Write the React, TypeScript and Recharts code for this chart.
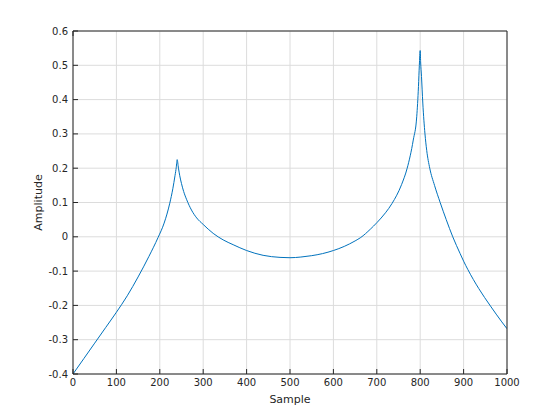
import React from 'react';
import { LineChart, Line, XAxis, YAxis, CartesianGrid } from 'recharts';

// sample index -> amplitude
const SAMPLES = [
  0, 25, 50, 75, 100, 125, 150, 175, 196, 210, 223, 230, 235, 238, 240, 243, 246, 250, 255, 262,
  273, 285, 300, 323, 346, 369, 400, 438, 477, 500, 525, 550, 575, 600, 625, 650, 663, 685, 700,
  720, 735, 757, 770, 784, 792, 796, 798, 800, 801, 803, 806, 811, 815, 822, 833, 846, 860, 875,
  892, 900, 910, 935, 962, 988, 1000,
];
const AMPLITUDE = [
  -0.4, -0.355, -0.31, -0.265, -0.22, -0.172, -0.117, -0.057, -0.002, 0.04, 0.098, 0.14, 0.178,
  0.203, 0.225, 0.2, 0.178, 0.155, 0.132, 0.108, 0.078, 0.055, 0.036, 0.01, -0.009, -0.023, -0.04,
  -0.054, -0.06, -0.061, -0.059, -0.055, -0.049, -0.04, -0.028, -0.012, -0.002, 0.022, 0.041,
  0.07, 0.097, 0.152, 0.2, 0.282, 0.35, 0.438, 0.5, 0.543, 0.51, 0.467, 0.39, 0.3, 0.252, 0.2,
  0.15, 0.1, 0.05, 0.0, -0.049, -0.071, -0.096, -0.151, -0.202, -0.248, -0.268,
];

const X_TICKS = [0, 100, 200, 300, 400, 500, 600, 700, 800, 900, 1000];
const Y_TICKS = [-0.4, -0.3, -0.2, -0.1, 0, 0.1, 0.2, 0.3, 0.4, 0.5, 0.6];

const data = SAMPLES.map((s, i) => ({ sample: s, amplitude: AMPLITUDE[i] }));

const FONT = '"DejaVu Sans", sans-serif';
const INK = '#262626';
const tickStyle = { fontSize: 10, fill: INK, fontFamily: FONT };
const noTick = () => <g />;

export default function App() {
  return (
    <div style={{ position: 'absolute', left: 0, top: 0, background: '#fff' }}>
      <LineChart
        width={560}
        height={420}
        data={data}
        margin={{ top: 30, right: 52, left: 3, bottom: 6 }}
      >
        <CartesianGrid stroke="#dcdcdc" strokeWidth={1} />
        <XAxis
          dataKey="sample"
          type="number"
          domain={[0, 1000]}
          ticks={X_TICKS}
          height={40}
          stroke={INK}
          tickSize={-5}
          tickMargin={10}
          tick={tickStyle}
          allowDataOverflow
          label={{ value: 'Sample', position: 'insideBottom', offset: 11, fontSize: 11, fill: INK, fontFamily: FONT }}
        />
        <XAxis
          xAxisId="top"
          orientation="top"
          type="number"
          domain={[0, 1000]}
          ticks={X_TICKS}
          height={1}
          stroke={INK}
          tickSize={-5}
          tick={noTick}
        />
        <YAxis
          type="number"
          domain={[-0.4, 0.6]}
          ticks={Y_TICKS}
          width={70}
          stroke={INK}
          tickSize={-5}
          tickMargin={10}
          tick={tickStyle}
          allowDataOverflow
          label={{ value: 'Amplitude', angle: -90, position: 'center', fontSize: 11, fill: INK, fontFamily: FONT }}
        />
        <YAxis
          yAxisId="right"
          orientation="right"
          type="number"
          domain={[-0.4, 0.6]}
          ticks={Y_TICKS}
          width={1}
          stroke={INK}
          tickSize={-5}
          tick={noTick}
        />
        {/* monotone keeps the curve smooth between the read points */}
        <Line
          dataKey="amplitude"
          type="monotone"
          stroke="#0072BD"
          strokeWidth={1}
          dot={false}
          isAnimationActive={false}
        />
      </LineChart>
    </div>
  );
}
